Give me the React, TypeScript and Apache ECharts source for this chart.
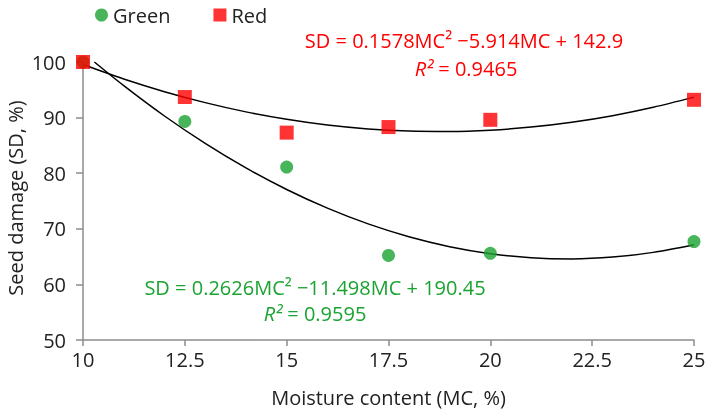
import React, { useEffect, useRef } from "react";
import * as echarts from "echarts";

const xTicks = [10, 12.5, 15, 17.5, 20, 22.5, 25];
const moisture = [10, 12.5, 15, 17.5, 20, 25];
const greenValues = [100, 89.3, 81.1, 65.2, 65.6, 67.7];
const redValues = [100, 93.7, 87.3, 88.3, 89.6, 93.2];

// trend curves (quadratic fits)
const greenCurveX = [10.28, 11, 12, 13, 14, 15, 16, 17, 18, 19, 20, 21, 22, 23, 24, 25];
const greenCurveY = [100, 95.75, 90.29, 85.36, 80.95, 77.07, 73.71, 70.88, 68.57, 66.79, 65.53, 64.8, 64.59, 64.91, 65.76, 67.13];
const redCurveX = [10, 11, 12, 13, 14, 15, 16, 17, 18, 19, 20, 21, 22, 23, 24, 25];
const redCurveY = [99.54, 96.94, 94.66, 92.69, 91.03, 89.7, 88.67, 87.97, 87.58, 87.5, 87.74, 88.3, 89.17, 90.35, 91.86, 93.68];

const yName = "Seed damage (SD, %)";
const redEq = "SD = 0.1578MC² −5.914MC + 142.9";
const redR2 = " = 0.9465";
const greenEq = "SD = 0.2626MC² −11.498MC + 190.45";
const greenR2 = " = 0.9595";

const FONT = "'Open Sans', 'Noto Sans', sans-serif";
const FS = 20;
const GREEN = "#1ba332";
const RED = "#ff0000";

export default function App() {
  const ref = useRef<HTMLDivElement>(null);
  useEffect(() => {
    if (!ref.current) return;
    const chart = echarts.init(ref.current, null, { renderer: "svg" });
    const pair = (xs: number[], ys: number[]) => xs.map((x, i) => [x, ys[i]]);
    chart.setOption({
      animation: false,
      textStyle: { fontFamily: FONT },
      grid: { left: 83, right: 15, top: 62, bottom: 69, containLabel: false, outerBoundsMode: "none" },
      legend: {
        top: 0,
        left: 90,
        itemGap: 43,
        itemWidth: 13,
        itemHeight: 13,
        textStyle: { fontSize: FS, color: "#222", fontFamily: FONT },
        data: [
          { name: "Green", icon: "circle" },
          { name: "Red", icon: "rect" },
        ],
      },
      xAxis: {
        type: "value",
        min: 10,
        max: 25,
        interval: 2.5,
        name: "Moisture content (MC, %)",
        nameLocation: "middle",
        nameGap: 47,
        nameTextStyle: { fontSize: FS, color: "#222", fontFamily: FONT },
        axisLine: { lineStyle: { color: "#8c8c8c", width: 1.5 } },
        axisTick: { show: true, length: 6, lineStyle: { color: "#8c8c8c", width: 1.5 } },
        axisLabel: {
          fontSize: FS,
          color: "#222",
          margin: 9,
          formatter: (v: number) => (xTicks.includes(v) ? String(v) : ""),
        },
        splitLine: { show: false },
      },
      yAxis: {
        type: "value",
        min: 50,
        max: 100,
        interval: 10,
        axisLine: { show: true, lineStyle: { color: "#8c8c8c", width: 1.5 } },
        axisTick: { show: true, length: 7, lineStyle: { color: "#8c8c8c", width: 1.5 } },
        axisLabel: { fontSize: FS, color: "#222", margin: 17 },
        splitLine: { show: false },
      },
      series: [
        {
          name: "GreenFit",
          type: "line",
          data: pair(greenCurveX, greenCurveY),
          smooth: 0.3,
          showSymbol: false,
          symbol: "none",
          lineStyle: { color: "#000", width: 1.5 },
          z: 1,
        },
        {
          name: "RedFit",
          type: "line",
          data: pair(redCurveX, redCurveY),
          smooth: 0.3,
          showSymbol: false,
          symbol: "none",
          lineStyle: { color: "#000", width: 1.5 },
          z: 1,
        },
        {
          name: "Green",
          type: "scatter",
          data: pair(moisture, greenValues),
          symbol: "circle",
          symbolSize: 13,
          itemStyle: { color: GREEN },
          z: 2,
        },
        {
          name: "Red",
          type: "scatter",
          data: pair(moisture, redValues),
          symbol: "rect",
          symbolSize: 14,
          itemStyle: { color: RED },
          z: 3,
        },
      ],
      graphic: [
        {
          type: "text",
          x: 15,
          y: 198,
          rotation: Math.PI / 2,
          style: {
            text: yName,
            fill: "#222",
            fontSize: FS,
            fontFamily: FONT,
            align: "center",
            verticalAlign: "middle",
          },
        },
        {
          type: "text",
          x: 464,
          y: 40,
          style: {
            text: redEq,
            fill: RED,
            fontSize: FS,
            fontFamily: FONT,
            align: "center",
            verticalAlign: "middle",
          },
        },
        {
          type: "text",
          x: 466,
          y: 68,
          style: {
            text: "{i|R²}{n|" + redR2 + "}",
            align: "center",
            verticalAlign: "middle",
            rich: {
              i: { fill: RED, fontSize: FS, fontStyle: "italic", fontFamily: FONT },
              n: { fill: RED, fontSize: FS, fontFamily: FONT },
            },
          },
        },
        {
          type: "text",
          x: 315,
          y: 287,
          style: {
            text: greenEq,
            fill: GREEN,
            fontSize: FS,
            fontFamily: FONT,
            align: "center",
            verticalAlign: "middle",
          },
        },
        {
          type: "text",
          x: 315,
          y: 313,
          style: {
            text: "{i|R²}{n|" + greenR2 + "}",
            align: "center",
            verticalAlign: "middle",
            rich: {
              i: { fill: GREEN, fontSize: FS, fontStyle: "italic", fontFamily: FONT },
              n: { fill: GREEN, fontSize: FS, fontFamily: FONT },
            },
          },
        },
      ],
    });
    return () => chart.dispose();
  }, []);
  return (
    <div
      ref={ref}
      style={{ position: "fixed", left: 0, top: 0, width: 709, height: 409 }}
    />
  );
}
